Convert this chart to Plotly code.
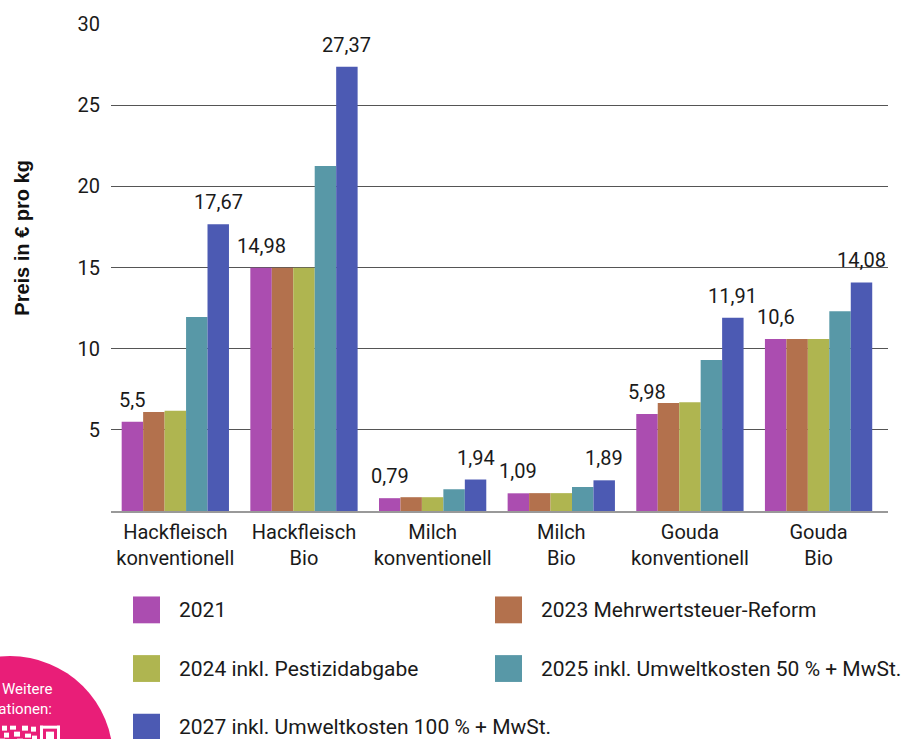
import plotly.graph_objects as go

# ---- data ----
categories = ["Hackfleisch<br>konventionell", "Hackfleisch<br>Bio", "Milch<br>konventionell",
              "Milch<br>Bio", "Gouda<br>konventionell", "Gouda<br>Bio"]
series_names = ["2021", "2023 Mehrwertsteuer-Reform", "2024 inkl. Pestizidabgabe",
                "2025 inkl. Umweltkosten 50 % + MwSt.", "2027 inkl. Umweltkosten 100 % + MwSt."]
v2021 = [5.5, 14.98, 0.79, 1.09, 5.98, 10.6]
v2023 = [6.1, 14.98, 0.85, 1.1, 6.65, 10.6]
v2024 = [6.17, 14.98, 0.85, 1.1, 6.7, 10.6]
v2025 = [11.95, 21.25, 1.34, 1.48, 9.3, 12.3]
v2027 = [17.67, 27.37, 1.94, 1.89, 11.91, 14.08]
series_values = [v2021, v2023, v2024, v2025, v2027]
labelled_series = [0, 4]
y_ticks = [5, 10, 15, 20, 25, 30]
y_title = "Preis in € pro kg"

colors = ["#AB4DB0", "#B3714D", "#AFB550", "#5898A7", "#4C5AB3"]
TEXT = "#1a1a1a"
PINK = "#E91E78"

W, H = 906, 739
PL, PR, PT, PB = 111, 888, 21, 511
BARGAP = 0.166


def px(x):
    return (x - PL) / (PR - PL)


def py(y):
    return (PB - y) / (PB - PT)


fig = go.Figure()
for name, vals, col in zip(series_names, series_values, colors):
    fig.add_bar(x=categories, y=vals, name=name, marker_color=col,
                marker_line_width=0, showlegend=False)

annotations = []
shapes = []

# value labels on first and last series
nser = len(series_values)
bw = (1 - BARGAP) / nser
for i in labelled_series:
    for j, v in enumerate(series_values[i]):
        annotations.append(dict(
            x=j + (i - (nser - 1) / 2) * bw, y=v, xref="x", yref="y",
            text=f"{v:g}".replace(".", ","), showarrow=False,
            yanchor="bottom", xanchor="center", yshift=8,
            font=dict(size=20, color=TEXT)))

# y-axis title
annotations.append(dict(
    x=px(22), y=py(236), xref="paper", yref="paper", text="<b>" + y_title + "</b>",
    textangle=-90, showarrow=False, xanchor="center", yanchor="middle",
    font=dict(family="Liberation Sans, Arial", size=20, color="#111")))

# manual legend
legend_pos = [(133, 597), (495, 597), (133, 656), (495, 656), (133, 715)]
for (lx, ly), name, col in zip(legend_pos, series_names, colors):
    shapes.append(dict(type="rect", xref="paper", yref="paper",
                       x0=px(lx), x1=px(lx + 27), y0=py(ly), y1=py(ly + 27),
                       fillcolor=col, line_width=0))
    annotations.append(dict(x=px(lx + 44), y=py(ly + 13.5), xref="paper", yref="paper",
                            text=name, showarrow=False, xanchor="left", yanchor="middle",
                            font=dict(size=21, color=TEXT)))

# pink info badge in bottom-left corner
shapes.append(dict(type="circle", xref="paper", yref="paper",
                   x0=px(10 - 103), x1=px(10 + 103), y0=py(760 + 103), y1=py(760 - 103),
                   fillcolor=PINK, line_width=0, layer="above"))
annotations.append(dict(x=px(54), y=py(690), xref="paper", yref="paper", text="Weitere",
                        showarrow=False, xanchor="right", yanchor="middle",
                        font=dict(size=15, color="white")))
annotations.append(dict(x=px(54), y=py(710), xref="paper", yref="paper", text="Informationen:",
                        showarrow=False, xanchor="right", yanchor="middle",
                        font=dict(size=15, color="white")))
# QR code hint
qr_blocks = [(40, 727, 60, 730), (40, 727, 43, 745), (57, 727, 60, 745), (46, 733, 54, 741),
             (2, 727, 7, 732), (10, 727, 16, 731), (22, 727, 28, 732), (31, 728, 36, 733),
             (4, 734, 9, 739), (14, 733, 20, 738), (25, 735, 31, 739), (0, 740, 5, 745),
             (17, 740, 23, 745), (32, 737, 37, 742)]
for x0, y0, x1, y1 in qr_blocks:
    shapes.append(dict(type="rect", xref="paper", yref="paper",
                       x0=px(x0), x1=px(x1), y0=py(y1), y1=py(y0),
                       fillcolor="white", line_width=0, layer="above"))

fig.update_layout(
    width=W, height=H, autosize=False,
    margin=dict(l=PL, r=W - PR, t=PT, b=H - PB, pad=0),
    barmode="group", bargap=BARGAP, bargroupgap=0,
    plot_bgcolor="white", paper_bgcolor="white",
    font=dict(family="Roboto", size=20, color=TEXT),
    annotations=annotations, shapes=shapes,
    xaxis=dict(type="category", showline=True, linecolor="#999", linewidth=2,
               ticks="", showgrid=False, tickfont=dict(size=20, color=TEXT),
               ticklabelstandoff=2, fixedrange=True),
    yaxis=dict(range=[0, 30], tickvals=y_ticks, ticktext=[str(t) for t in y_ticks],
               showgrid=True, gridcolor="#555", gridwidth=1, zeroline=False,
               showline=False, ticks="", ticklabelstandoff=10,
               tickfont=dict(size=20, color=TEXT), fixedrange=True),
)

fig.write_html("out.html")
